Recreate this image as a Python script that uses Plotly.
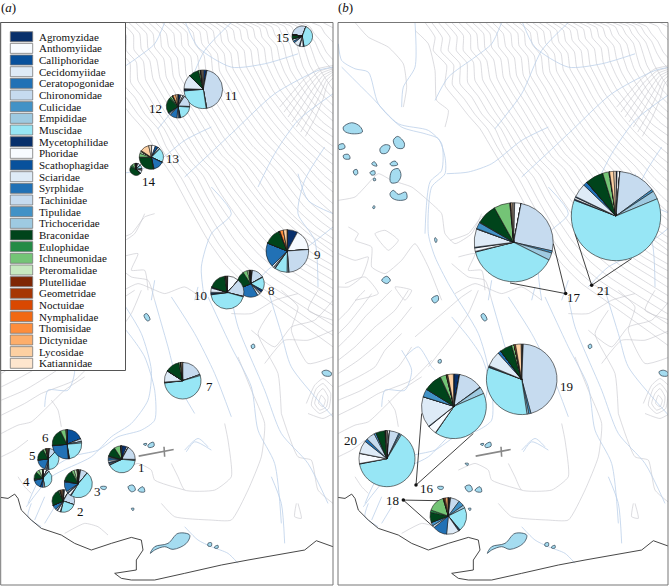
import plotly.graph_objects as go

# ---------- data ----------
families = ["Agromyzidae","Anthomyiidae","Calliphoridae","Cecidomyiidae","Ceratopogonidae","Chironomidae",
            "Culicidae","Empididae","Muscidae","Mycetophilidae","Phoridae","Scathophagidae","Sciaridae",
            "Syrphidae","Tachinidae","Tipulidae","Trichoceridae","Braconidae","Eulophidae","Ichneumonidae",
            "Pteromalidae","Plutellidae","Geometridae","Noctuidae","Nymphalidae","Thomisidae","Dictynidae",
            "Lycosidae","Katiannidae"]
colours = ["#08306b","#f7fbff","#08519c","#deebf7","#2171b5","#c6dbef","#4292c6","#9ecae1","#97e6f5",
           "#08306b","#f7fbff","#08519c","#deebf7","#2171b5","#c6dbef","#4292c6","#9ecae1",
           "#00441b","#238b45","#74c476","#c7e9c0","#7f2704","#a63603","#d94801","#f16913","#fd8d3c",
           "#fdae6b","#fdd0a2","#fee6ce"]

#          Ag  An  Cal Cec Cer Chi  Cul Emp Mus  Myc Pho Sca Sci  Syr  Tac Tip Tri Bra  Eul Ich Pte Plu Geo Noc Nym Tho Dic Lyc Kat
site_1  = [6,  2,  0,  0,  0,  17,  .5, 1,  41,  1,  1,  1.5,2.5, 3,   1,  1,  0,  12,  0,  8,  0,  .5, 0,  0,  0,  0,  0,  0,  .5]
site_2  = [2,  6,  0,  0,  0,  22,  0,  0,  23,  1,  4,  1,  2,   7,   0,  0,  0,  24,  0,  2,  0,  1,  0,  0,  0,  1,  2,  1,  0]
site_3  = [1.5,1,  0,  0,  0,  8,   0,  0,  45,  1,  3,  1,  1.5, 11,  0,  1,  0,  13,  0,  3,  3,  .5, 0,  0,  0,  0,  1,  0,  0]
site_4  = [0,  7,  0,  0,  0,  4,   0,  0,  35,  0,  3,  5,  0,   16,  0,  2,  0,  13,  0,  6,  6,  0,  0,  0,  0,  0,  1,  0,  0]
site_5  = [0,  2,  0,  0,  0,  10,  0,  0,  37,  1,  1.5,1.5,2,   18,  0,  .5, 0,  18,  0,  4,  0,  1,  0,  0,  0,  1,  1,  1,  0]
site_6  = [.5, 0,  18, 0,  0,  3,   0,  1.5,23,  .5, .5, .5, 0,   24,  .5, 0,  0,  18,  .5, 6,  0,  .5, 0,  0,  0,  0,  0,  0,  .5]
site_7  = [0,  0,  0,  0,  0,  19.5,0,  1,  52.5,.5, .3, 0,  10,  .4,  0,  0,  0,  12.5,0,  1.5,0,  .3, 0,  0,  0,  0,  0,  1,  .5]
site_8  = [.5, 1.5,0,  0,  0,  14,  0,  .5, 15,  3,  2,  0,  3,   26,  0,  0,  0,  21,  0,  5,  2,  1,  0,  0,  0,  0,  1,  0,  0]
site_9  = [8,  16, 0,  0,  0,  25,  .5, 1,  9.5, .5, 1,  0,  1.5, 18.5,0,  0,  0,  12.5,0,  .5, 0,  0,  .3, 0,  0,  2.7,0,  3,  0]
site_10 = [.5, 11, 0,  0,  0,  17,  0,  .5, 43,  1,  0,  1.5,4,   1,   0,  0,  0,  17,  0,  1,  0,  .5, 0,  0,  0,  0,  .5, .5, 0]
site_11 = [2.6,.5, 0,  0,  0,  44,  0,  .5, 26,  1.5,.3, 0,  12,  0,   0,  0,  0,  8.5, 0,  1.5,0,  .5, 0,  0,  0,  0,  .5, 1,  .5]
site_12 = [4,  3,  0,  2,  0,  16,  0,  1,  20,  1,  0,  2,  2,   10,  2,  2,  0,  21,  2,  3,  0,  1,  0,  0,  0,  0,  4,  3,  0]
site_13 = [.5, 5,  4,  0,  0,  3,   0,  0,  19,  .5, 0,  0,  0,   14,  1,  0,  0,  27,  1,  5,  3,  0,  0,  0,  0,  0,  1,  12, 3.5]
site_14 = [2,  3,  0,  0,  0,  8,   0,  0,  10,  2,  3,  0,  8,   2,   0,  0,  0,  45,  5,  8,  4,  0,  0,  0,  0,  0,  0,  0,  0]
site_15 = [0,  0,  0,  0,  0,  27.8,0,  0,  41.7,1.5,5,  1.5,9,   3,   3.5,0,  0,  7,   0,  0,  0,  0,  0,  0,  0,  0,  0,  0,  0]
site_16 = [2.8,0,  0,  0,  0,  12.1,.3, 3.3,41.1,.2, 4.3,.3, 15.4,0,   0,  4,  0,  9,   .3, 3,  0,  .3, 0,  0,  0,  .5, 0,  2.8,.3]
site_17 = [.4, 2.6,0,  0,  0,  25.5,.9, 3,  38.6,.3, 1.4,.3, 7.5, 0,   .2, 2.6,.2, 8.4, 0,  6.5,.2, .3, 0,  0,  0,  0,  0,  .6, .5]
site_18 = [1.5,.5, 0,  0,  0,  8,   5,  2.5,21,  1,  .5, 0,  11,  12.5,2,  3,  0,  9,   2,  15, 0,  1,  0,  0,  0,  1,  2.5,0,  0]
site_19 = [.2, .5, 0,  0,  0,  44.9,1,  .8, 32.8,.5, .3, 0,  7,   1.5, 0,  0,  0,  5.5, 0,  1.2,0,  0,  0,  0,  0,  .6, 0,  2.6,.2]
site_20 = [.3, 1.2,0,  0,  0,  5.5, .8, .8, 63.6,.3, 5.8,.2, 7.5, 1.8, 5,  1.2,0,  5.2, .3, .4, 0,  0,  0,  0,  0,  0,  0,  0,  .5]
site_21 = [.4, 1,  0,  0,  0,  13.5,.8, 3,  62,  .4, .7, .3, 5,   1.5, 0,  0,  0,  6.5, 0,  2.2,.3, 0,  0,  0,  0,  0,  0,  1.5,.8]

# pie name, values, centre x, centre y, radius (page pixels), start angle
pies = [
 ("1",  site_1,  121.7,459.3,13.5,0), ("2",  site_2,  63.3,501,11.3,0), ("3",  site_3,  78.3,483.7,14,0),
 ("4",  site_4,  43,478.3,9,0),       ("5",  site_5,  48.3,459,10.5,0), ("6",  site_6,  67,444.3,14.7,0),
 ("7",  site_7,  182.7,380.7,18.3,0), ("8",  site_8,  250.7,283.7,13.5,0), ("9",  site_9,  287.3,251,21.3,0),
 ("10", site_10, 227.3,292.5,16.5,0), ("11", site_11, 203.3,89.3,19.3,0),  ("12", site_12, 178,106.3,11.7,0),
 ("13", site_13, 151.3,157.3,12,0),   ("14", site_14, 136,169.3,6,0),      ("15", site_15, 302.3,36.3,10.3,280),
 ("16", site_16, 454,406.3,32.3,0),   ("17", site_17, 513.7,242.3,39.5,0), ("18", site_18, 448.3,516,18.3,0),
 ("19", site_19, 521.7,379.3,35.3,0), ("20", site_20, 387,458.7,28,0),     ("21", site_21, 616,216,44.7,0),
]

site_labels = [("1",141.7,467),("2",80,511.7),("3",97.7,491),("4",26.7,481),("5",32,455),("6",45,437.7),
               ("7",209,386),("8",271.7,290),("9",317,254),("10",200,295),("11",231.7,95.7),("12",155.7,108.7),
               ("13",172,159),("14",148.7,181),("15",282.3,37.7),
               ("16",426.7,488.7),("17",574,297),("18",392.7,500),("19",566.7,386.7),("20",350.3,440.7),("21",603.3,290)]

# map polylines: flat x,y lists in map units (3 units = 1 px)
contours_upper = [
 [270,66,300,110,295,150,335,195,330,255,365,300,400,345,435,385,465,435,495,485,525,530,555,585,590,650,630,720,680,790,740,850,810,900,880,950,950,1000,1005,1040],
 [310,66,345,110,340,150,375,190,375,250,410,290,440,340,480,385,505,440,540,490,575,535,610,600,650,670,690,735,740,795,800,845,870,890,940,935,1005,975],
 [350,66,385,105,385,150,415,185,420,240,450,285,480,335,515,385,545,435,580,485,615,525,650,590,690,650,735,710,785,765,845,815,915,860,1005,915],
 [392,66,425,100,430,145,455,180,465,235,490,280,520,330,552,378,582,428,615,478,650,515,690,575,730,630,775,690,825,745,885,790,950,830,1005,865],
 [432,66,465,100,470,140,497,175,505,230,530,275,560,322,590,372,620,422,652,470,688,505,725,560,770,620,815,675,865,725,925,770,1005,815],
 [472,66,505,100,512,138,538,172,545,225,570,270,598,318,628,365,658,415,690,460,725,495,760,545,800,600,850,650,905,700,965,745,1005,770],
 [512,66,548,98,552,135,578,168,585,222,610,265,636,312,665,358,695,405,728,448,762,485,800,530,840,590,880,640,935,690,1005,735],
 [552,66,585,95,592,132,618,165,625,218,650,260,675,305,702,350,732,395,765,438,800,472,840,515,880,570,920,620,970,665,1005,690],
 [592,66,625,92,632,128,658,160,665,212,690,255,715,298,740,342,770,385,802,425,838,460,880,505,920,555,960,600,1005,640],
 [632,66,665,90,672,125,698,158,705,205,730,248,752,290,778,332,808,372,840,412,875,448,920,490,960,535,1005,575],
 [672,66,705,88,712,120,738,150,745,198,768,240,790,282,815,320,845,360,878,398,912,435,955,475,1005,520],
 [712,66,745,85,752,115,778,145,785,190,805,232,826,272,852,305,882,345,915,385,950,420,1005,465],
 [752,66,785,82,792,110,818,140,825,182,842,222,862,258,888,295,918,332,950,370,1005,410],
 [792,66,822,80,832,105,855,132,865,172,878,210,900,245,925,282,955,318,1005,362],
 [832,66,860,78,872,100,895,128,905,165,915,198,935,232,958,268,1005,315],
 [870,66,898,78,910,98,932,125,945,160,955,188,972,218,1005,268],
 [905,66,935,78,948,98,968,122,985,155,1005,178],
 [940,66,968,78,980,98,1005,125],
 [975,66,1005,82],
 [290,66,322,112,318,152,356,194,352,252,388,296,420,342,458,386,486,438,518,488,550,533,582,592,620,660,660,728,710,792,770,848,840,895,910,942,980,990,1005,1005],
 [330,66,366,108,364,150,396,188,398,246,430,288,460,338,498,385,526,438,560,488,596,530,630,595,670,660,712,722,762,780,822,830,892,875,972,925,1005,945],
 [371,66,406,103,408,148,436,183,443,238,470,283,500,333,534,382,564,432,598,482,632,520,670,582,710,640,755,700,805,755,865,802,932,845,1005,890],
 [412,66,446,100,450,143,476,178,486,233,510,278,540,327,571,375,601,425,634,474,669,510,708,568,750,622,795,680,845,735,905,780,975,822,1005,840],
 [452,66,486,100,491,139,518,174,526,228,550,273,580,320,609,369,640,419,672,465,707,500,743,552,790,612,835,665,885,715,945,760,1005,795],
 [492,66,527,99,532,137,558,170,565,224,590,268,617,315,647,361,676,410,709,454,744,490,780,538,820,595,870,645,925,695,985,740,1005,755],
 [532,66,567,96,572,134,598,166,605,220,630,262,655,308,684,354,714,400,747,443,781,478,820,522,860,580,900,630,955,680,1005,715],
 [572,66,605,93,612,130,638,162,645,215,670,258,695,301,721,346,751,390,784,431,819,466,860,510,900,562,940,610,1005,665],
 [612,66,645,91,652,126,678,159,685,208,710,251,733,294,759,337,789,378,821,418,856,454,900,497,940,545,980,588,1005,610],
 [652,66,685,89,692,122,718,154,725,201,749,244,771,286,796,326,826,366,859,405,893,441,937,482,980,527,1005,548],
 [692,66,725,86,732,118,758,148,765,194,786,236,808,277,833,312,863,352,896,391,931,427,977,470,1005,492],
 [732,66,765,83,772,112,798,142,805,186,823,227,844,265,870,300,900,338,932,377,975,415,1005,438],
 [772,66,803,81,812,108,836,136,845,177,860,216,881,252,906,288,936,325,975,366,1005,388],
 [812,66,841,79,852,102,875,130,885,168,897,204,917,238,941,275,978,316,1005,340],
 [850,66,880,78,891,99,913,126,925,162,935,193,953,225,982,268,1005,292],
 [888,66,917,78,929,98,950,123,965,157,980,182,1005,210],
 [1005,195,960,205,920,235,880,280,845,320],
 [1005,200,965,212,928,245,890,292,858,335],
 [1005,205,970,218,935,255,900,305,870,350],
 [1005,210,975,225,945,265,912,318,882,365],
 [1005,215,980,232,955,275,925,330,895,380],
 [1005,222,985,240,965,285,938,342,908,395],
 [1005,232,988,252,975,296,950,355,922,408],
 [60,66,100,110,160,140,205,190,215,260,205,320],
 [240,90,280,130,300,210,305,300,340,330,330,380],
 [10,600,60,590,90,560,130,520,170,540,230,560,290,610,320,640,330,700,360,730,410,700,440,640],
 [40,680,70,700,60,720,110,740,110,800,150,820,200,780,240,730,280,800,320,900],
 [345,720,400,700,440,650,470,640],[350,790,400,830,450,840,470,900],[30,850,90,830,130,880,60,900],
 [370,770,420,760,400,810,440,810,450,870],[180,860,230,870,210,900,180,860],[120,700,150,690,190,720,160,750,120,700],
 [10,760,60,780,100,770,80,830,40,860,10,860],[360,880,420,850,500,880,560,860,620,900],
]
contours_lower = [
 [10,170,50,130,90,80,130,40,170,0],[10,210,60,170,120,110,180,60,220,0],[10,250,70,210,130,160,190,100,230,50],
 [10,290,70,260,120,230,150,180,200,130],[10,330,80,300,130,270,190,230,230,170],[10,375,80,340,130,310,230,270,290,210],
 [10,430,60,405,100,395,200,300,260,260],[240,140,310,80,380,20,410,0],[280,230,350,140,400,70,430,0],
 [10,130,40,100,80,50,110,10],[10,90,40,60,70,20,90,0],
 [520,520,540,560,560,600,650,600,700,560,690,450,680,400],
 [490,640,530,680,640,690,700,690,750,600,790,500,800,400,760,300,720,200],
 [850,370,900,500,940,510,960,600,1005,640],
 [900,640,910,685,890,680,895,640],
 [760,120,830,170,880,110,950,90,1005,30],[700,70,760,70,830,30,900,10],[800,220,860,150,930,150,1005,120],
 [950,340,960,310,975,295,990,320,985,350,965,360,950,340],[962,340,970,315,982,330,975,350,962,340],
 [925,340,950,285,975,265,1005,290],[930,370,975,385,1005,370],[940,345,955,295,975,280,998,310,992,355,965,370,940,345],
 [200,730,260,700,300,710,330,735],[370,540,420,520,460,540,470,570,560,600],
 [10,500,50,480,90,450],[60,560,80,590,100,610],[160,330,180,360,190,410],
 [850,0,900,50,880,120,930,220,1005,200],[960,0,930,60,1005,90],[820,60,780,130,840,250,850,370],
]
streams_upper = [
 [10,130,20,180,60,205,100,215,130,310,200,380,270,400,310,415,330,470,330,520,290,560,280,700,300,770,340,850,370,900],
 [20,200,110,290,190,370,280,390,320,430,320,510,285,545,270,700],
 [240,66,240,200,205,260,200,320],[300,300,340,230,420,170,470,130,500,66],
 [480,385,560,280,620,150,700,66],[335,520,400,515,470,490,560,420,640,380],
 [560,530,700,400,830,280,960,210,1005,200],[780,560,830,460,900,360,1005,280],
 [640,560,700,640,640,700,610,800,620,900],[900,520,930,600,1005,640],[760,860,820,800,900,760,1005,680],
 [980,440,920,540,900,640,950,720,960,860],[560,60,600,140,700,200,800,190,900,160],
 [470,840,460,900],[600,860,590,900],[700,840,680,900],
]
streams_lower = [
 [350,80,400,140,440,200,470,300,470,390,430,420,360,440,300,480,220,500,130,560,90,640],
 [370,30,430,130,460,240,450,330,400,400,340,440,280,500,160,560,85,650],
 [470,30,510,170,540,280,590,370],[520,20,590,130,650,250,700,380],[630,20,700,170,760,290,780,420,830,520,850,700],
 [700,20,720,110,800,300,850,430,930,520,990,640],[810,0,850,130,880,230,1005,380],
 [200,180,230,240,210,300,150,300,140,350],[210,200,250,170,290,230,300,240],
 [560,480,600,445,630,470],[565,485,590,455,640,480],[560,710,600,750,640,770,690,790,720,820],
 [100,640,90,680,130,710],[140,620,110,690],[170,650,140,700],[820,560,850,640,860,760],
]
lakes_upper = [
 [25,380,50,367,75,378,82,395,50,400,28,392,25,380],[175,420,188,408,208,428,205,443,185,442,175,420],
 [135,445,150,433,165,437,155,458,138,458,135,445],[10,435,25,430,30,442,12,447,10,435],
 [25,465,40,462,45,475,28,475,25,465],[110,490,118,484,126,497,115,495,110,490],
 [165,490,180,482,188,493,170,496,165,490],[165,530,172,510,190,505,198,525,188,545,168,547,165,530],
 [55,512,65,507,68,520,60,524,55,512],[105,516,118,511,120,522,110,524,105,516],
 [165,580,175,570,190,582,212,575,215,595,190,600,170,592,165,580],[140,840,155,828,166,840,155,850,140,840],
 [290,895,308,886,310,900,298,908,290,895],[300,712,306,718,303,727,299,720,300,712],
 [113,620,118,616,120,622,115,625,113,620],[115,535,120,533,122,540,116,541,115,535],
]
lakes_lower = [
 [457,790,470,770,510,760,540,730,575,735,565,760,525,778,500,770,470,780,457,790],
 [438,75,446,70,456,88,448,92,438,75],[972,245,985,240,1000,248,998,257,978,256,972,245],
 [760,165,768,162,770,172,762,175,760,165],[436,462,446,460,444,466,436,462],[450,465,466,456,468,468,452,472,450,465],
 [390,590,405,585,412,600,400,605,390,590],[420,600,435,590,440,605,425,605,420,600],[308,590,325,590,322,598,310,596,308,590],
 [390,520,400,520,398,526,390,520],[310,210,318,208,318,218,310,218,310,210],[630,760,640,758,640,768,630,768,630,760],
 [650,770,660,766,660,774,650,774,650,770],[400,655,408,655,405,662,400,655],
]
coast_lower = [9,622,30,625,50,612,60,625,70,660,100,690,130,715,190,735,230,760,280,780,340,760,400,742,430,750,435,780,
               415,810,415,840,350,850,370,865,400,870,470,870,560,850,670,825,750,810,830,795,920,780,955,752,1005,770]
runway_lines = [[422,498,527,478],[498,470,500,500]]

# leader lines (panel b, map units): dot, two ends of tangents
leaders = [(692,880,655,730,525,848),(770,855,720,700,890,775),(243,1455,260,1240,415,1300),(205,1500,320,1502,295,1580)]

# ---------- figure ----------
W, H = 669, 586
LOWER = 870
fig = go.Figure()

def xs(p): return p[0::2]
def ys(p, off=0): return [v + off for v in p[1::2]]

def merged(upper, lower):
    X, Y = [], []
    for p in upper:
        X += xs(p) + [None]; Y += ys(p) + [None]
    for p in lower:
        X += xs(p) + [None]; Y += ys(p, LOWER) + [None]
    return X, Y

for xa, ya in (("x", "y"), ("x2", "y2")):
    X, Y = merged(contours_upper, contours_lower)
    fig.add_trace(go.Scatter(x=X, y=Y, xaxis=xa, yaxis=ya, mode="lines", line=dict(color="#c4c4cb", width=0.6, shape="spline", smoothing=0.5), hoverinfo="skip"))
    X, Y = merged(streams_upper, streams_lower)
    fig.add_trace(go.Scatter(x=X, y=Y, xaxis=xa, yaxis=ya, mode="lines", line=dict(color="#bcd0ea", width=0.8, shape="spline", smoothing=0.7), hoverinfo="skip"))
    X, Y = merged(lakes_upper, lakes_lower)
    fig.add_trace(go.Scatter(x=X, y=Y, xaxis=xa, yaxis=ya, mode="lines", fill="toself", fillcolor="#a5dcf0",
                             line=dict(color="#234", width=0.7, shape="spline", smoothing=1), hoverinfo="skip"))
    fig.add_trace(go.Scatter(x=xs(coast_lower), y=ys(coast_lower, LOWER), xaxis=xa, yaxis=ya, mode="lines",
                             line=dict(color="#333", width=0.9), hoverinfo="skip"))
    for r in runway_lines:
        fig.add_trace(go.Scatter(x=xs(r), y=ys(r, LOWER), xaxis=xa, yaxis=ya, mode="lines",
                                 line=dict(color="#888", width=1.6), hoverinfo="skip"))

for dx, dy, ax, ay, bx, by in leaders:
    fig.add_trace(go.Scatter(x=[ax, dx, bx], y=[ay, dy, by], xaxis="x2", yaxis="y2", mode="lines",
                             line=dict(color="#111", width=0.8), hoverinfo="skip"))
    fig.add_trace(go.Scatter(x=[dx], y=[dy], xaxis="x2", yaxis="y2", mode="markers",
                             marker=dict(color="#111", size=3.5), hoverinfo="skip"))

for name, vals, cx, cy, r, rot in pies:
    fig.add_trace(go.Pie(labels=families, values=vals, sort=False, direction="clockwise", rotation=rot,
                         marker=dict(colors=colours, line=dict(color="#1a1a1a", width=0.6)),
                         textinfo="none", hoverinfo="label+percent", name=name,
                         domain=dict(x=[(cx-r)/W, (cx+r)/W], y=[1-(cy+r)/H, 1-(cy-r)/H])))

shapes = [
 dict(type="rect", xref="paper", yref="paper", x0=0.7/W, x1=333/W, y0=1-585/H, y1=1-22.5/H, line=dict(color="#777", width=1), layer="above"),
 dict(type="rect", xref="paper", yref="paper", x0=338/W, x1=668/W, y0=1-585/H, y1=1-22.5/H, line=dict(color="#777", width=1), layer="above"),
 dict(type="rect", xref="paper", yref="paper", x0=0.7/W, x1=125.5/W, y0=1-370.5/H, y1=1-22.5/H, fillcolor="white", line=dict(color="#555", width=1), layer="above"),
]
annotations = []
step = (363.3 - 36.7) / 28
for i, (fam, col) in enumerate(zip(families, colours)):
    yc = 36.7 + i * step
    shapes.append(dict(type="rect", xref="paper", yref="paper", x0=10.3/W, x1=32.7/W, y0=1-(yc+5)/H, y1=1-(yc-5)/H,
                       fillcolor=col, line=dict(color="#777", width=0.8), layer="above"))
    annotations.append(dict(xref="paper", yref="paper", x=37/W, y=1-yc/H, text=fam, showarrow=False, xanchor="left", yanchor="middle",
                            font=dict(family="Liberation Serif", size=11, color="#111")))
for t, x, y in site_labels:
    annotations.append(dict(xref="paper", yref="paper", x=x/W, y=1-y/H, text=t, showarrow=False, xanchor="center", yanchor="middle",
                            font=dict(family="Liberation Serif", size=13, color="#111")))
for t, x in (("(<i>a</i>)", 8), ("(<i>b</i>)", 345)):
    annotations.append(dict(xref="paper", yref="paper", x=x/W, y=1-8/H, text=t, showarrow=False, xanchor="center", yanchor="middle",
                            font=dict(family="Liberation Serif", size=13, color="#111")))

hidden = dict(visible=False, fixedrange=True)
fig.update_layout(
    width=W, height=H, margin=dict(l=0, r=0, t=0, b=0), showlegend=False, paper_bgcolor="white", plot_bgcolor="white",
    xaxis=dict(domain=[1/W, 333/W], range=[9, 1005], **hidden),
    yaxis=dict(domain=[1-585/H, 1-22.5/H], range=[1755, 66], **hidden),
    xaxis2=dict(domain=[338/W, 668/W], range=[9, 999], **hidden),
    yaxis2=dict(domain=[1-585/H, 1-22.5/H], range=[1755, 66], **hidden),
    shapes=shapes, annotations=annotations,
)
fig.write_html("out.html", config=dict(displayModeBar=False),
               post_script="document.body.style.margin='0';document.body.style.overflow='hidden';")
